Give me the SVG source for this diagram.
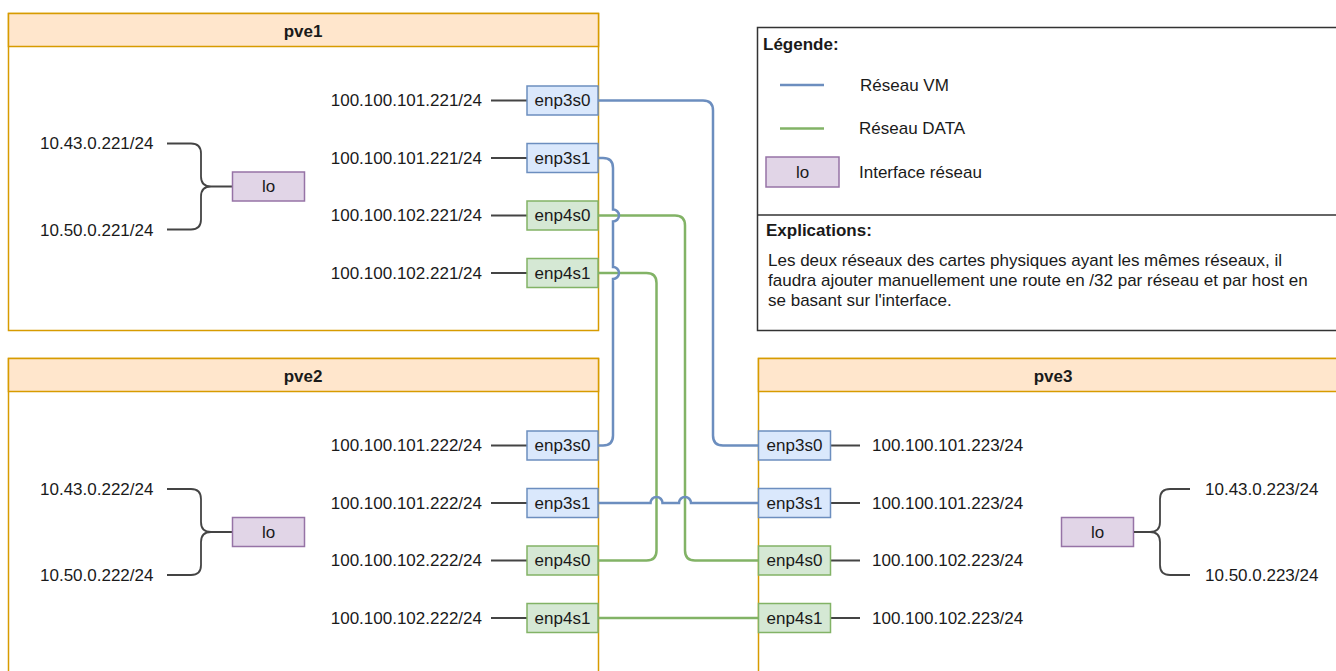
<svg xmlns="http://www.w3.org/2000/svg" width="1336" height="671" viewBox="0 0 1336 671">
<defs>
<style>
text{font-family:"Liberation Sans",Arial,sans-serif;font-size:17px;fill:#1a1a1a;dominant-baseline:central}
.t{font-weight:bold;text-anchor:middle}
.b{font-weight:bold}
.c{text-anchor:middle}
.e{text-anchor:end}
.cont{fill:#ffffff;stroke:#d79b00;stroke-width:1.5}
.hdr{fill:#ffe6cc;stroke:#d79b00;stroke-width:1.5}
.vm{fill:#dae8fc;stroke:#6c8ebf;stroke-width:1.5}
.dt{fill:#d5e8d4;stroke:#82b366;stroke-width:1.5}
.lo{fill:#e1d5e7;stroke:#9673a6;stroke-width:1.5}
.g{fill:none;stroke:#444444;stroke-width:1.8}
.lb{fill:none;stroke:#6c8ebf;stroke-width:2.5}
.lg{fill:none;stroke:#82b366;stroke-width:2.5}
</style>
</defs>
<rect width="1336" height="671" fill="#ffffff"/>

<g id="pve1">
<rect class="cont" x="8.5" y="13.5" width="590" height="317"/>
<rect class="hdr" x="8.5" y="13.5" width="590" height="33"/>
<text class="t" x="303" y="31">pve1</text>
<text x="40" y="143.5">10.43.0.221/24</text>
<text x="40" y="230">10.50.0.221/24</text>
<path class="g" d="M167,143.5 H191 Q201,143.5 201,153.5 V176.5 Q201,186.5 211,186.5 H232 M167,229.5 H191 Q201,229.5 201,219.5 V196.5 Q201,186.5 211,186.5"/>
<rect class="lo" x="232.5" y="172" width="72" height="29"/>
<text class="c" x="268.5" y="186.5">lo</text>
<text class="e" x="482" y="100.5">100.100.101.221/24</text>
<text class="e" x="482" y="158">100.100.101.221/24</text>
<text class="e" x="482" y="215.5">100.100.102.221/24</text>
<text class="e" x="482" y="273">100.100.102.221/24</text>
<path class="g" d="M491,100.5 H527 M491,158 H527 M491,215.5 H527 M491,273 H527"/>
</g>

<g id="pve2">
<rect class="cont" x="8.5" y="358.5" width="590" height="330"/>
<rect class="hdr" x="8.5" y="358.5" width="590" height="33"/>
<text class="t" x="303" y="376">pve2</text>
<text x="40" y="489">10.43.0.222/24</text>
<text x="40" y="575.5">10.50.0.222/24</text>
<path class="g" d="M167,489 H191 Q201,489 201,499 V522 Q201,532 211,532 H232 M167,575 H191 Q201,575 201,565 V542 Q201,532 211,532"/>
<rect class="lo" x="232.5" y="517.5" width="72" height="29"/>
<text class="c" x="268.5" y="532">lo</text>
<text class="e" x="482" y="445.5">100.100.101.222/24</text>
<text class="e" x="482" y="503">100.100.101.222/24</text>
<text class="e" x="482" y="560.5">100.100.102.222/24</text>
<text class="e" x="482" y="618">100.100.102.222/24</text>
<path class="g" d="M491,445.5 H527 M491,503 H527 M491,560.5 H527 M491,618 H527"/>
</g>

<g id="pve3">
<rect class="cont" x="758.5" y="358.5" width="590" height="330"/>
<rect class="hdr" x="758.5" y="358.5" width="590" height="33"/>
<text class="t" x="1053" y="376">pve3</text>
<path class="g" d="M830,445.5 H860 M830,503 H860 M830,560.5 H860 M830,618 H860"/>
<text x="872" y="445.5">100.100.101.223/24</text>
<text x="872" y="503">100.100.101.223/24</text>
<text x="872" y="560.5">100.100.102.223/24</text>
<text x="872" y="618">100.100.102.223/24</text>
<rect class="lo" x="1061.5" y="517.5" width="72" height="29"/>
<text class="c" x="1097.5" y="532">lo</text>
<path class="g" d="M1134,532 H1150 Q1160,532 1160,522 V499 Q1160,489 1170,489 H1190 M1150,532 Q1160,532 1160,542 V565 Q1160,575 1170,575 H1190"/>
<text x="1205" y="489">10.43.0.223/24</text>
<text x="1205" y="575.5">10.50.0.223/24</text>
</g>

<g id="connectors">
<path class="lg" d="M598,215.5 H675 Q685,215.5 685,225.5 V550.5 Q685,560.5 695,560.5 H758"/>
<path class="lg" d="M598,273 H646.5 Q656.5,273 656.5,283 V550.5 Q656.5,560.5 646.5,560.5 H598"/>
<path class="lg" d="M598,618 H758"/>
<path class="lb" d="M598,100.5 H703 Q713,100.5 713,110.5 V435.5 Q713,445.5 723,445.5 H758"/>
<path class="lb" d="M598,158 H603 Q613,158 613,168 V209.5 A6,6 0 0 1 613,221.5 V267 A6,6 0 0 1 613,279 V435.5 Q613,445.5 603,445.5 H598"/>
<path class="lb" d="M598,503 H650.5 A6,6 0 0 1 662.5,503 H679 A6,6 0 0 1 691,503 H758"/>
</g>

<g id="if-pve1">
<rect class="vm" x="527" y="86" width="71" height="29"/><text class="c" x="562.5" y="100.5">enp3s0</text>
<rect class="vm" x="527" y="143.5" width="71" height="29"/><text class="c" x="562.5" y="158">enp3s1</text>
<rect class="dt" x="527" y="201" width="71" height="29"/><text class="c" x="562.5" y="215.5">enp4s0</text>
<rect class="dt" x="527" y="258.5" width="71" height="29"/><text class="c" x="562.5" y="273">enp4s1</text>
</g>
<g id="if-pve2">
<rect class="vm" x="527" y="431" width="71" height="29"/><text class="c" x="562.5" y="445.5">enp3s0</text>
<rect class="vm" x="527" y="488.5" width="71" height="29"/><text class="c" x="562.5" y="503">enp3s1</text>
<rect class="dt" x="527" y="546" width="71" height="29"/><text class="c" x="562.5" y="560.5">enp4s0</text>
<rect class="dt" x="527" y="603.5" width="71" height="29"/><text class="c" x="562.5" y="618">enp4s1</text>
</g>
<g id="if-pve3">
<rect class="vm" x="758.5" y="431" width="72" height="29"/><text class="c" x="794.5" y="445.5">enp3s0</text>
<rect class="vm" x="758.5" y="488.5" width="72" height="29"/><text class="c" x="794.5" y="503">enp3s1</text>
<rect class="dt" x="758.5" y="546" width="72" height="29"/><text class="c" x="794.5" y="560.5">enp4s0</text>
<rect class="dt" x="758.5" y="603.5" width="72" height="29"/><text class="c" x="794.5" y="618">enp4s1</text>
</g>

<g id="legend">
<rect x="757.5" y="27.5" width="590" height="303" fill="#ffffff" stroke="#333333" stroke-width="1.5"/>
<line x1="757.5" y1="215" x2="1340" y2="215" stroke="#333333" stroke-width="1.5"/>
<text class="b" x="763" y="44">Légende:</text>
<line x1="780" y1="85" x2="824" y2="85" class="lb"/>
<text x="860" y="85">Réseau VM</text>
<line x1="780" y1="128.5" x2="824" y2="128.5" class="lg"/>
<text x="859" y="128.5">Réseau DATA</text>
<rect class="lo" x="766" y="157" width="73" height="30"/>
<text class="c" x="802.5" y="172">lo</text>
<text x="859" y="172">Interface réseau</text>
<text class="b" x="766" y="230.5">Explications:</text>
<text x="768" y="260.5">Les deux réseaux des cartes physiques ayant les mêmes réseaux, il</text>
<text x="768" y="280.5">faudra ajouter manuellement une route en /32 par réseau et par host en</text>
<text x="768" y="300.5">se basant sur l'interface.</text>
</g>
</svg>
